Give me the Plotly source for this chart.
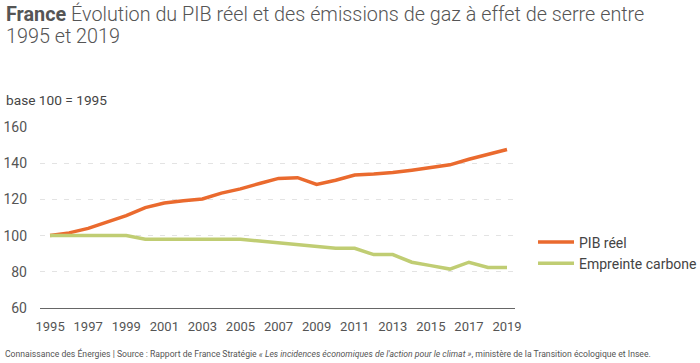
import plotly.graph_objects as go

years = list(range(1995, 2020))
pib = [100, 101.5, 104, 107.5, 111, 115.5, 118, 119.3, 120.2, 123.5, 125.8, 128.8, 131.6, 132,
       128.3, 130.6, 133.5, 134, 134.8, 136.1, 137.6, 139.1, 142.2, 145, 147.6]
carbone = [100, 100, 100, 100, 100, 98, 98, 98, 98, 98, 98, 97, 96, 95, 94, 93, 93, 89.5, 89.5,
           85.3, 83.4, 81.5, 85.3, 82.4, 82.4]
xticks = list(range(1995, 2020, 2))
yticks = [60, 80, 100, 120, 140, 160]

ORANGE = "#EA6A2E"
GREEN = "#C0CD73"
FONT = "Roboto"
LIGHT = "Roboto Light, Roboto"

L, R, T, B = 40, 185, 127, 55
W, H = 700, 363
PW, PH = W - L - R, H - T - B


def px(x):
    return (x - L) / PW


def py(y):
    return (H - B - y) / PH


fig = go.Figure()
fig.add_trace(go.Scatter(x=years, y=pib, mode="lines", name="PIB réel", legendgroup="a",
                         line=dict(color=ORANGE, width=3.5)))
fig.add_trace(go.Scatter(x=years, y=carbone, mode="lines", name="Empreinte carbone", legendgroup="b",
                         line=dict(color=GREEN, width=3.5)))

fig.update_layout(
    width=W, height=H,
    margin=dict(l=L, r=R, t=T, b=B, pad=0, autoexpand=False),
    paper_bgcolor="white", plot_bgcolor="white",
    font=dict(family=FONT, size=13, color="#555"),
    showlegend=True,
    legend=dict(x=px(533), y=py(253), xanchor="left", yanchor="middle",
                font=dict(family=FONT, size=14, color="#444"), tracegroupgap=0,
                itemwidth=36, bgcolor="rgba(0,0,0,0)"),
    xaxis=dict(range=[1994.47, 2019.42], tickvals=xticks, ticktext=[str(v) for v in xticks],
               showgrid=False, showline=True, linecolor="#666", linewidth=1.2, zeroline=False,
               ticks="", ticklabelstandoff=6, tickfont=dict(size=13, color="#555"),
               fixedrange=True, automargin=False),
    yaxis=dict(range=[60, 160], tickvals=yticks, showgrid=True, gridcolor="#e3e3e3",
               griddash="5px,7px", gridwidth=1, zeroline=False, showline=False, ticks="",
               ticklabelstandoff=12, tickfont=dict(size=14, color="#555"),
               fixedrange=True, automargin=False),
    annotations=[
        dict(xref="paper", yref="paper", x=px(4), y=py(14), xanchor="left", yanchor="middle",
             showarrow=False,
             text="<span style='font-family:Roboto;font-weight:bold'>France</span> Évolution du PIB réel et des émissions de gaz à effet de serre entre",
             font=dict(family=LIGHT, size=19.8, color="#555", weight=300)),
        dict(xref="paper", yref="paper", x=px(4), y=py(37), xanchor="left", yanchor="middle",
             showarrow=False, text="1995 et 2019",
             font=dict(family=LIGHT, size=19.8, color="#555", weight=300)),
        dict(xref="paper", yref="paper", x=px(4), y=py(100), xanchor="left", yanchor="middle",
             showarrow=False, text="base 100 = 1995",
             font=dict(family=FONT, size=13.7, color="#444")),
        dict(xref="paper", yref="paper", x=px(3), y=py(353), xanchor="left", yanchor="middle",
             showarrow=False,
             text="Connaissance des Énergies | Source : Rapport de France Stratégie <i>« Les incidences économiques de l'action pour le climat »</i>, ministère de la Transition écologique et Insee.",
             font=dict(family=FONT, size=8.65, color="#555")),
    ],
)

fig.write_html("out.html", config={"displayModeBar": False},
               post_script="document.body.style.margin='0';document.body.style.overflow='hidden';")
